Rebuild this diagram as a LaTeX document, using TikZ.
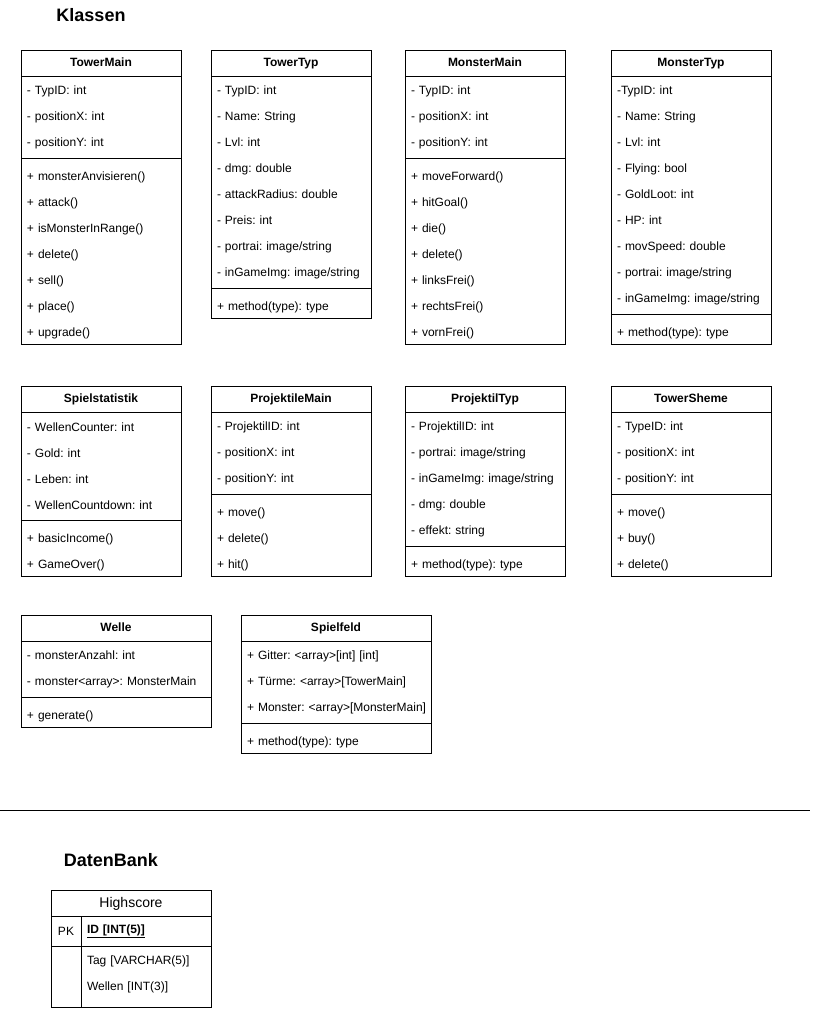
\documentclass[tikz,border=0pt]{standalone}
\usepackage{fontspec}
\setmainfont{Liberation Sans}
\usetikzlibrary{positioning}
\newcommand{\rowfont}{\fontsize{12}{26}\selectfont\frenchspacing\hyphenpenalty=10000\relax}

\begin{document}
\begin{tikzpicture}[
    x=1pt, y=1pt, line width=1pt, outer sep=0pt,
    head/.style={draw, anchor=north west, minimum width=#1, minimum height=26pt,
                 inner sep=0pt, text height=9pt, text depth=3pt,
                 font=\fontsize{12}{14}\selectfont\bfseries},
    head/.default=160pt,
    compart/.style={draw, align=left, text width=#1, inner xsep=6pt, inner ysep=0pt,
                    font=\rowfont},
    compart/.default=148pt,
    meth/.style={compart=#1, execute at begin node={\rule{0pt}{17pt}}},
    meth/.default=148pt,
    cell/.style={draw, anchor=north west, inner sep=0pt, font=\fontsize{12}{14}\selectfont},
    title/.style={font=\fontsize{18}{22}\selectfont\bfseries},
  ]
  \useasboundingbox (0,0) rectangle (812,-1009);

  % Klassen
  \node[title] (klassen) at (91,-15) {Klassen};

  % row 1
  \node[head] (towermain) at (21,-50) {TowerMain};
  \node[compart, minimum height=82pt, below=0pt of towermain] (towermain-attr)
    {- TypID: int\\- positionX: int\\- positionY: int};
  \node[meth, minimum height=186pt, below=0pt of towermain-attr] (towermain-meth)
    {+ monsterAnvisieren()\\+ attack()\\+ isMonsterInRange()\\+ delete()\\+ sell()\\+ place()\\+ upgrade()};

  \node[head] (towertyp) at (211,-50) {TowerTyp};
  \node[compart, minimum height=212pt, below=0pt of towertyp] (towertyp-attr)
    {- TypID: int\\- Name: String\\- Lvl: int\\- dmg: double\\- attackRadius: double\\- Preis: int\\- portrai: image/string\\- inGameImg: image/string};
  \node[meth, minimum height=30pt, below=0pt of towertyp-attr] (towertyp-meth)
    {+ method(type): type};

  \node[head] (monstermain) at (405,-50) {MonsterMain};
  \node[compart, minimum height=82pt, below=0pt of monstermain] (monstermain-attr)
    {- TypID: int\\- positionX: int\\- positionY: int};
  \node[meth, minimum height=186pt, below=0pt of monstermain-attr] (monstermain-meth)
    {+ moveForward()\\+ hitGoal()\\+ die()\\+ delete()\\+ linksFrei()\\+ rechtsFrei()\\+ vornFrei()};

  \node[head] (monstertyp) at (611,-50) {MonsterTyp};
  \node[compart, minimum height=238pt, below=0pt of monstertyp] (monstertyp-attr)
    {-TypID: int\\- Name: String\\- Lvl: int\\- Flying: bool\\- GoldLoot: int\\- HP: int\\- movSpeed: double\\- portrai: image/string\\- inGameImg: image/string};
  \node[meth, minimum height=30pt, below=0pt of monstertyp-attr] (monstertyp-meth)
    {+ method(type): type};

  % row 2
  \node[head] (spielstatistik) at (21,-386) {Spielstatistik};
  \node[compart, minimum height=108pt, below=0pt of spielstatistik] (spielstatistik-attr)
    {- WellenCounter: int\\- Gold: int\\- Leben: int\\- WellenCountdown: int};
  \node[meth, minimum height=56pt, below=0pt of spielstatistik-attr] (spielstatistik-meth)
    {+ basicIncome()\\+ GameOver()};

  \node[head] (projektilemain) at (211,-386) {ProjektileMain};
  \node[compart, minimum height=82pt, below=0pt of projektilemain] (projektilemain-attr)
    {- ProjektilID: int\\- positionX: int\\- positionY: int};
  \node[meth, minimum height=82pt, below=0pt of projektilemain-attr] (projektilemain-meth)
    {+ move()\\+ delete()\\+ hit()};

  \node[head] (projektiltyp) at (405,-386) {ProjektilTyp};
  \node[compart, minimum height=134pt, below=0pt of projektiltyp] (projektiltyp-attr)
    {- ProjektilID: int\\- portrai: image/string\\- inGameImg: image/string\\- dmg: double\\- effekt: string};
  \node[meth, minimum height=30pt, below=0pt of projektiltyp-attr] (projektiltyp-meth)
    {+ method(type): type};

  \node[head] (towersheme) at (611,-386) {TowerSheme};
  \node[compart, minimum height=82pt, below=0pt of towersheme] (towersheme-attr)
    {- TypeID: int\\- positionX: int\\- positionY: int};
  \node[meth, minimum height=82pt, below=0pt of towersheme-attr] (towersheme-meth)
    {+ move()\\+ buy()\\+ delete()};

  % row 3
  \node[head=190pt] (welle) at (21,-615) {Welle};
  \node[compart=178pt, minimum height=56pt, below=0pt of welle] (welle-attr)
    {- monsterAnzahl: int\\- monster<array>: MonsterMain};
  \node[meth=178pt, minimum height=30pt, below=0pt of welle-attr] (welle-meth)
    {+ generate()};

  \node[head=190pt] (spielfeld) at (241,-615) {Spielfeld};
  \node[compart=178pt, minimum height=82pt, below=0pt of spielfeld] (spielfeld-attr)
    {+ Gitter: <array>[int] [int]\\+ Türme: <array>[TowerMain]\\+~Monster:~<array>[MonsterMain]};
  \node[meth=178pt, minimum height=30pt, below=0pt of spielfeld-attr] (spielfeld-meth)
    {+ method(type): type};

  % divider
  \coordinate (ruleL) at (0,-810);
  \coordinate (ruleR) at (810,-810);
  \draw (ruleL) -- (ruleR);

  % DatenBank
  \node[title] (datenbank) at (111,-860) {DatenBank};

  \node[cell, minimum width=160pt, minimum height=26pt, text height=10pt, text depth=2pt,
        font=\fontsize{14}{16}\selectfont] (highscore) at (51,-890) {Highscore};
  \node[cell, minimum width=30pt, minimum height=30pt] (pk) at (highscore.south west) {PK};
  \node[cell, align=left, text width=118pt, inner xsep=6pt, minimum height=30pt] (hsid) at (pk.north east)
    {\textbf{\underline{ID [INT(5)]}}};
  \node[cell, minimum width=30pt, minimum height=61pt] (pkfree) at (pk.south west) {};
  \node[compart=118pt, anchor=north west, minimum height=61pt,
        execute at end node={\rule[-7pt]{0pt}{0pt}}] (hsrows) at (hsid.south west)
    {Tag [VARCHAR(5)]\\Wellen [INT(3)]};

\end{tikzpicture}
\end{document}
